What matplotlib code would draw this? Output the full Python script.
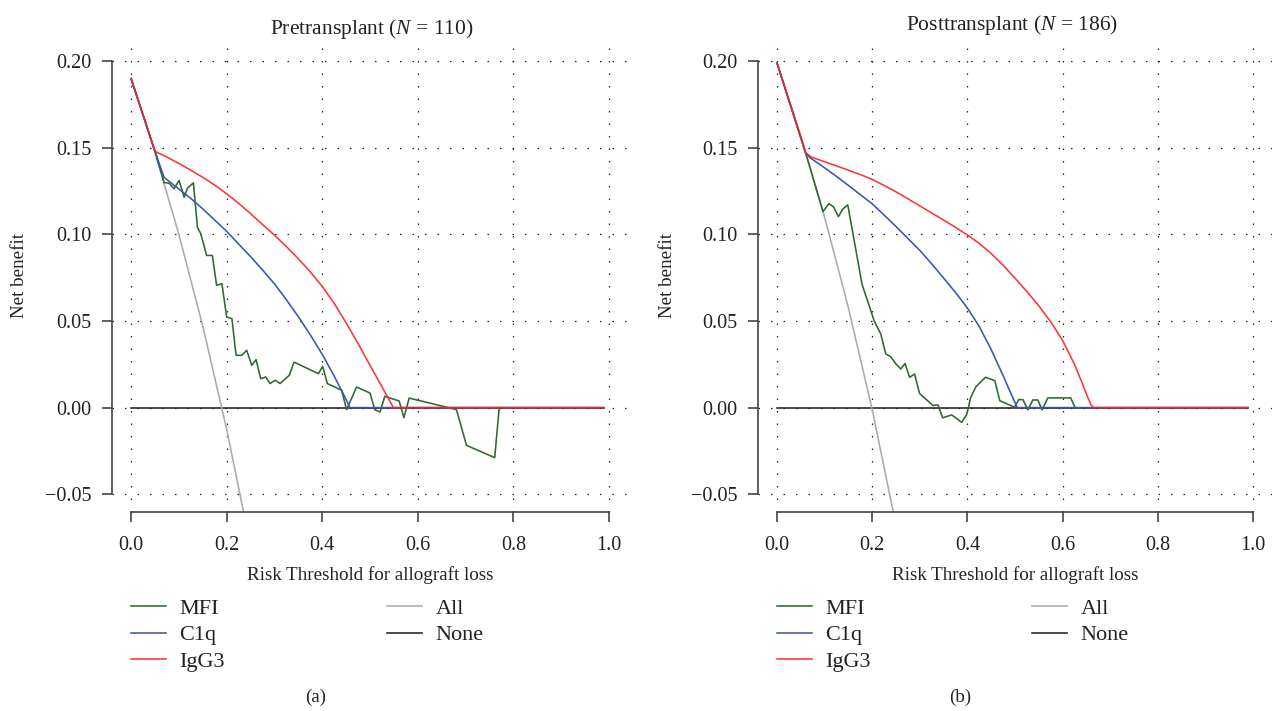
import matplotlib
matplotlib.use('Agg')
import matplotlib.pyplot as plt

plt.rcParams['font.family'] = ['Liberation Serif', 'DejaVu Serif']
plt.rcParams['mathtext.fontset'] = 'custom'
plt.rcParams['mathtext.rm'] = 'Liberation Serif'
plt.rcParams['mathtext.it'] = 'Liberation Serif:italic'

# ---------------- data ----------------
x_ticks = [0.0, 0.2, 0.4, 0.6, 0.8, 1.0]
y_ticks = [-0.05, 0.00, 0.05, 0.10, 0.15, 0.20]
x_labels = ["0.0", "0.2", "0.4", "0.6", "0.8", "1.0"]
y_labels = ["\u22120.05", "0.00", "0.05", "0.10", "0.15", "0.20"]

titles = ["Pretransplant ($N$ = 110)", "Posttransplant ($N$ = 186)"]
panel_tags = ["(a)", "(b)"]
series_names = ["MFI", "C1q", "IgG3", "All", "None"]

none_x = [0.0, 0.99]
none_y = [0.0, 0.0]

# Pretransplant
pre_all_x = [0.0, 0.05, 0.10, 0.15, 0.20, 0.25]
pre_all_y = [0.190, 0.1474, 0.100, 0.0471, -0.0125, -0.080]

pre_igg3_x = [0.0, 0.05, 0.075, 0.10, 0.125, 0.15, 0.175, 0.20, 0.225, 0.25, 0.275, 0.30,
              0.325, 0.35, 0.375, 0.40, 0.425, 0.45, 0.475, 0.50, 0.525, 0.549, 0.99]
pre_igg3_y = [0.190, 0.148, 0.1447, 0.141, 0.1371, 0.133, 0.1285, 0.1235, 0.1180, 0.1120, 0.1058,
              0.0996, 0.0930, 0.0860, 0.0784, 0.0700, 0.0602, 0.0490, 0.0370, 0.0245, 0.0120,
              0.0, 0.0]

pre_c1q_x = [0.0, 0.05, 0.069, 0.10, 0.125, 0.15, 0.175, 0.20, 0.225, 0.25, 0.275, 0.30,
             0.325, 0.35, 0.375, 0.40, 0.425, 0.445, 0.458, 0.99]
pre_c1q_y = [0.190, 0.148, 0.1330, 0.1262, 0.1208, 0.1148, 0.1083, 0.1018, 0.0945, 0.0872,
             0.0795, 0.0715, 0.0623, 0.0525, 0.0420, 0.0308, 0.0182, 0.0075, 0.0, 0.0]

pre_mfi_x = [0.0, 0.05, 0.069, 0.0795, 0.090, 0.1004, 0.111, 0.118, 0.1304, 0.1388, 0.1458,
             0.158, 0.170, 0.179, 0.19, 0.200, 0.211, 0.2197, 0.2315, 0.242, 0.2525, 0.2615,
             0.2713, 0.2818, 0.2908, 0.3013, 0.3117, 0.3312, 0.341, 0.392, 0.401, 0.4107,
             0.4407, 0.451, 0.472, 0.500, 0.510, 0.521, 0.531, 0.561, 0.571, 0.582, 0.664,
             0.681, 0.702, 0.761, 0.7705]
pre_mfi_y = [0.190, 0.148, 0.130, 0.1296, 0.1264, 0.1312, 0.1215, 0.1267, 0.1298, 0.1042, 0.1004,
             0.0879, 0.0879, 0.0706, 0.0716, 0.0523, 0.0514, 0.0302, 0.0302, 0.0331, 0.0244, 0.0277,
             0.0167, 0.0177, 0.0139, 0.0158, 0.0139, 0.0187, 0.0263, 0.0196, 0.0238, 0.0139,
             0.010, -0.0012, 0.0119, 0.0084, -0.0012, -0.0025, 0.0065, 0.0038, -0.0058, 0.0055, 0.0,
             -0.0012, -0.0218, -0.0289, 0.0]

# Posttransplant
post_all_x = [0.0, 0.05, 0.10, 0.15, 0.20, 0.25]
post_all_y = [0.199, 0.1568, 0.110, 0.0576, -0.0012, -0.068]

post_igg3_x = [0.0, 0.06, 0.072, 0.10, 0.125, 0.15, 0.175, 0.20, 0.225, 0.25, 0.275, 0.30,
               0.325, 0.35, 0.375, 0.40, 0.425, 0.45, 0.475, 0.50, 0.525, 0.55, 0.575, 0.60,
               0.625, 0.64, 0.652, 0.66, 0.665, 0.99]
post_igg3_y = [0.199, 0.1472, 0.1447, 0.1420, 0.1396, 0.1371, 0.1346, 0.1318, 0.1283, 0.1246,
               0.1206, 0.1165, 0.1124, 0.1083, 0.1041, 0.0997, 0.0948, 0.0890, 0.0822, 0.0748,
               0.0670, 0.0588, 0.0496, 0.0388, 0.0250, 0.0150, 0.0065, 0.0015, 0.0, 0.0]

post_c1q_x = [0.0, 0.06, 0.0688, 0.10, 0.125, 0.15, 0.175, 0.20, 0.225, 0.25, 0.275, 0.30,
              0.325, 0.35, 0.375, 0.40, 0.425, 0.45, 0.475, 0.49, 0.505, 0.99]
post_c1q_y = [0.199, 0.1472, 0.1444, 0.1385, 0.1335, 0.1283, 0.1230, 0.1177, 0.1112, 0.1046,
              0.0977, 0.0908, 0.0830, 0.0748, 0.0665, 0.0575, 0.0468, 0.0335, 0.0185, 0.0090,
              0.0, 0.0]

post_mfi_x = [0.0, 0.06, 0.0965, 0.109, 0.1188, 0.129, 0.138, 0.1486, 0.166, 0.1785, 0.204, 0.218,
              0.2285, 0.239, 0.249, 0.26, 0.269, 0.2785, 0.289, 0.2994, 0.3278, 0.338, 0.348,
              0.367, 0.388, 0.3985, 0.407, 0.418, 0.438, 0.4576, 0.468, 0.4993, 0.5077, 0.5167,
              0.527, 0.5375, 0.548, 0.557, 0.569, 0.617, 0.6264]
post_mfi_y = [0.199, 0.1472, 0.1132, 0.1178, 0.1159, 0.1103, 0.1146, 0.1171, 0.0905, 0.0713, 0.0502,
              0.0425, 0.031, 0.0294, 0.0255, 0.0223, 0.0255, 0.0175, 0.0194, 0.0082, 0.0012, 0.0016,
              -0.0059, -0.0042, -0.0085, -0.004, 0.0059, 0.0121, 0.0175, 0.0156, 0.004, 0.0002,
              0.0046, 0.0046, -0.0013, 0.0044, 0.0044, -0.0013, 0.0056, 0.0056, 0.0]

panels = [
    dict(mfi=(pre_mfi_x, pre_mfi_y), c1q=(pre_c1q_x, pre_c1q_y), igg3=(pre_igg3_x, pre_igg3_y),
         all=(pre_all_x, pre_all_y)),
    dict(mfi=(post_mfi_x, post_mfi_y), c1q=(post_c1q_x, post_c1q_y), igg3=(post_igg3_x, post_igg3_y),
         all=(post_all_x, post_all_y)),
]

# ---------------- style ----------------
C_MFI = '#2E6930'
C_C1Q = '#3A55B0'
C_IGG3 = '#FF1F1F'
C_ALL = '#AAAAAA'
C_NONE = '#222222'
TXT = '#222222'
FS_TICK = 14.5
FS_LAB = 13.7
FS_TITLE = 15.5
FS_LEG = 16
LW = 1.15

W, H = 1272, 711
fig = plt.figure(figsize=(W / 100, H / 100), dpi=100)

# axes rectangles in pixels: left, top, right, bottom
rects = [(112, 44, 628, 511.5), (758, 44, 1272, 511.5)]
title_pos = [(372, 29), (1012, 25)]
tag_x = [316, 960]
ylab_x = [20, 667]
leg_x = [(131, 387), (777, 1032)]

for i, (p, r) in enumerate(zip(panels, rects)):
    l, t, rr, b = r
    ax = fig.add_axes([l / W, 1 - b / H, (rr - l) / W, (b - t) / H])
    ax.set_xlim(-0.04, 1.04)
    ax.set_ylim(-0.06, 0.21)
    ax.set_axisbelow(True)
    ax.grid(True, color='#222222', linestyle=(0, (1.2, 8.8)), linewidth=0.9)

    ax.plot(none_x, none_y, color=C_NONE, lw=LW, label=series_names[4], zorder=2)
    ax.plot(*p['all'], color=C_ALL, lw=LW, label=series_names[3], zorder=2)
    ax.plot(*p['mfi'], color=C_MFI, lw=LW, label=series_names[0], zorder=3)
    ax.plot(*p['c1q'], color=C_C1Q, lw=LW, label=series_names[1], zorder=4)
    ax.plot(*p['igg3'], color=C_IGG3, lw=LW, alpha=0.9, label=series_names[2], zorder=5)

    ax.spines['top'].set_visible(False)
    ax.spines['right'].set_visible(False)
    for s in ('left', 'bottom'):
        ax.spines[s].set_color('#444444')
        ax.spines[s].set_linewidth(1.2)
    ax.spines['left'].set_bounds(-0.05, 0.20)
    ax.spines['bottom'].set_bounds(0.0, 1.0)
    ax.set_xticks(x_ticks)
    ax.set_xticklabels(x_labels)
    ax.set_yticks(y_ticks)
    ax.set_yticklabels(y_labels)
    ax.tick_params(direction='out', length=7, width=1.2, color='#444444',
                   labelsize=FS_TICK, labelcolor=TXT)
    ax.tick_params(axis='x', pad=11)
    ax.tick_params(axis='y', pad=8)
    ax.set_xlabel("Risk Threshold for allograft loss", fontsize=FS_LAB, color=TXT, labelpad=8)

    fig.text(ylab_x[i] / W, 1 - 275 / H, "Net benefit", rotation=90, fontsize=FS_LAB,
             color=TXT, ha='center', va='center')
    fig.text(title_pos[i][0] / W, 1 - title_pos[i][1] / H, titles[i], fontsize=FS_TITLE,
             color=TXT, ha='center', va='center')
    fig.text(tag_x[i] / W, 1 - 697 / H, panel_tags[i], fontsize=FS_LAB, color=TXT,
             ha='center', va='center')

    h = {ln.get_label(): ln for ln in ax.get_lines()}
    common = dict(loc='upper left', frameon=False, fontsize=FS_LEG, borderpad=0,
                  borderaxespad=0, handlelength=1.58, handletextpad=0.6, labelspacing=0.28)
    leg1 = fig.legend([h['MFI'], h['C1q'], h['IgG3']], ['MFI', 'C1q', 'IgG3'],
                      bbox_to_anchor=(leg_x[i][0] / W, 1 - 598 / H), **common)
    leg2 = fig.legend([h['All'], h['None']], ['All', 'None'],
                      bbox_to_anchor=(leg_x[i][1] / W, 1 - 598 / H), **common)
    for lg in (leg1, leg2):
        for txt in lg.get_texts():
            txt.set_color(TXT)

fig.savefig('out.png', dpi=100)
